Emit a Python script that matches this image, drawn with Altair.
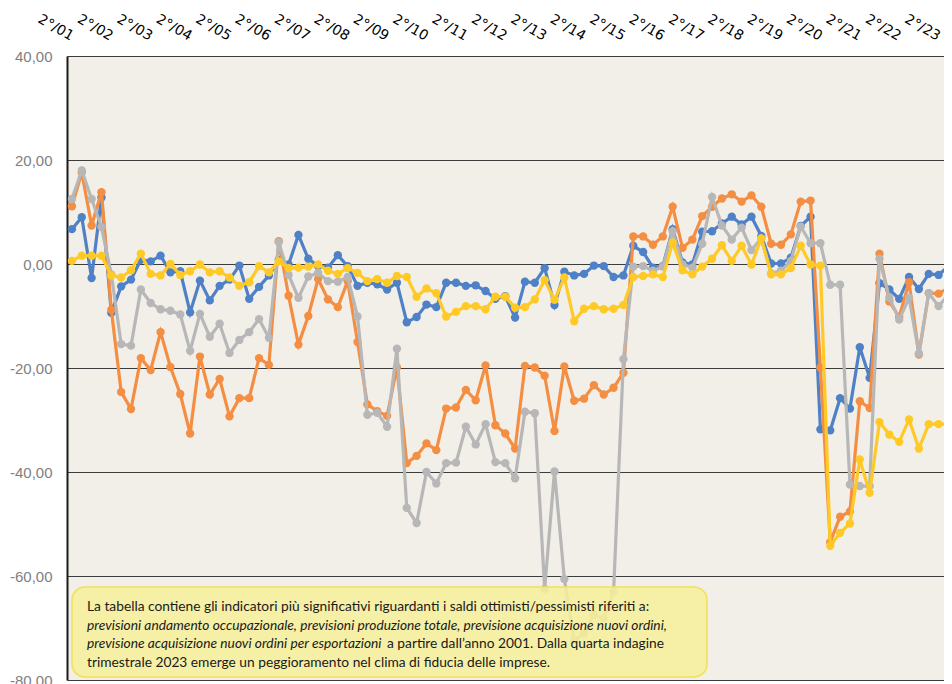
import altair as alt
import pandas as pd

# ---------------- data ----------------
quarter_index = list(range(91))  # 2°/01 ... 4°/23 (quarterly)

tick_labels = ["2°/01", "2°/02", "2°/03", "2°/04", "2°/05", "2°/06", "2°/07", "2°/08",
               "2°/09", "2°/10", "2°/11", "2°/12", "2°/13", "2°/14", "2°/15", "2°/16",
               "2°/17", "2°/18", "2°/19", "2°/20", "2°/21", "2°/22", "2°/23"]

occupazione = [6.7, 9.0, -2.7, 12.8, -9.4, -4.3, -3.0, 0.8, 0.5, 1.6,
               -1.6, -1.4, -9.3, -3.2, -7.0, -4.2, -3.0, -0.3, -6.7, -4.4,
               -2.2, 0.8, -0.1, 5.6, 1.0, -0.4, -0.7, 1.7, -0.4, -4.2,
               -3.6, -3.9, -4.9, -3.6, -11.2, -10.2, -7.8, -8.3, -3.6, -3.6,
               -4.2, -4.1, -5.2, -6.7, -6.2, -10.3, -3.4, -3.6, -0.8, -7.9,
               -1.5, -2.2, -1.9, -0.3, -0.4, -2.5, -2.2, 3.5, 2.3, -0.7,
               -0.4, 6.7, 0.3, -0.1, 6.2, 6.3, 7.8, 9.1, 7.6, 9.1,
               5.4, 0.1, 0.1, 1.2, 7.3, 9.1, -31.8, -32.0, -25.8, -27.8,
               -16.0, -21.9, -3.7, -4.9, -6.7, -2.5, -4.8, -1.9, -2.1, -0.4,
               -1.0]

produzione = [11.1, 17.6, 7.4, 13.8, -8.8, -24.6, -27.9, -18.1, -20.4, -13.1,
              -19.8, -25.0, -32.6, -17.8, -25.1, -22.1, -29.3, -25.8, -25.8, -18.1,
              -19.4, 4.4, -6.1, -15.5, -10.0, -2.9, -6.8, -8.3, -3.3, -15.0,
              -27.0, -28.3, -29.2, -19.9, -38.3, -36.9, -34.5, -35.8, -27.8, -27.6,
              -24.2, -26.2, -19.5, -31.0, -32.6, -35.5, -19.6, -19.9, -21.5, -32.1,
              -19.7, -26.3, -25.9, -23.3, -25.1, -23.8, -20.9, 5.3, 5.3, 3.7,
              5.3, 11.0, 3.1, 4.7, 9.2, 11.0, 12.6, 13.4, 12.0, 13.2,
              11.0, 3.9, 3.7, 5.7, 12.0, 12.2, -19.9, -53.5, -48.6, -47.6,
              -26.4, -27.7, 2.0, -7.2, -10.2, -3.5, -17.4, -5.6, -5.7, -4.6,
              -5.5]

ordini = [12.5, 18.0, 12.5, 7.1, -2.0, -15.4, -15.7, -4.9, -7.5, -8.7,
          -9.0, -9.7, -16.7, -9.6, -14.0, -11.5, -17.1, -14.6, -13.1, -10.6,
          -14.2, 4.2, -2.1, -6.5, -2.4, -1.7, -3.3, -3.4, -2.5, -10.1,
          -29.0, -28.6, -31.3, -16.3, -46.9, -49.8, -40.0, -42.2, -38.3, -38.2,
          -31.3, -34.7, -30.8, -38.1, -38.3, -41.2, -28.4, -28.7, -62.5, -39.9,
          -60.6, -72.3, -71.0, -67.5, -68.2, -63.0, -18.3, -0.5, -0.4, -1.3,
          -0.5, 6.3, -0.1, -0.7, 3.9, 12.9, 7.4, 4.7, 7.0, 2.7,
          4.9, -1.8, -1.3, 0.6, 7.2, 4.0, 4.0, -4.0, -4.0, -42.4,
          -42.7, -42.7, 1.0, -6.5, -10.7, -6.5, -17.2, -5.6, -8.1, -5.9,
          -7.5]

esportazioni = [0.6, 1.6, 1.6, 1.6, -2.2, -2.6, -1.2, 2.0, -1.9, -2.2,
                0.0, -2.1, -1.4, -0.1, -1.6, -1.4, -2.6, -4.2, -3.5, -0.4,
                -1.6, 0.5, -0.8, -0.7, -0.5, -0.1, -1.3, -1.9, -0.8, -1.7,
                -3.3, -2.9, -3.6, -2.3, -2.5, -6.3, -4.7, -5.6, -10.1, -9.2,
                -8.1, -8.1, -8.7, -6.3, -6.3, -8.4, -8.3, -6.8, -3.1, -6.9,
                -2.6, -11.0, -8.6, -8.1, -8.7, -8.6, -7.9, -2.5, -2.3, -2.0,
                -2.5, 4.1, -1.2, -2.0, -0.5, 1.0, 3.6, 0.6, 3.5, -0.1,
                4.9, -2.0, -2.0, -0.8, 3.5, -0.1, -0.3, -54.2, -51.7, -49.9,
                -37.6, -44.0, -30.4, -32.8, -34.2, -29.9, -35.5, -30.8, -30.8, -30.8,
                -33.0]

series = [
    (occupazione, "#4F81C7"),
    (produzione, "#F48E42"),
    (ordini, "#B7B7B7"),
    (esportazioni, "#FFC926"),
]

note_line1 = "La tabella contiene gli indicatori più significativi riguardanti i saldi ottimisti/pessimisti riferiti a:"
note_line2 = "previsioni andamento occupazionale, previsioni produzione totale, previsione acquisizione nuovi ordini,"
note_line3a = "previsione acquisizione nuovi ordini per esportazioni"
note_line3b = "a partire dall\u2019anno 2001. Dalla quarta indagine"
note_line4 = "trimestrale 2023 emerge un peggioramento nel clima di fiducia delle imprese."

# ---------------- encodings ----------------
label_array = "[" + ",".join("'" + t + "'" for t in tick_labels) + "]"

x_enc = alt.X(
    "q:Q",
    scale=alt.Scale(domain=[-0.5, 88.55], nice=False, zero=False),
    axis=alt.Axis(
        orient="top",
        values=[4 * k for k in range(len(tick_labels))],
        labelExpr=label_array + "[round(datum.value / 4)]",
        labelAngle=30,
        labelAlign="right",
        labelBaseline="middle",
        labelPadding=19,
        labelFont="DejaVu Sans",
        labelFontSize=14,
        labelColor="#000000",
        labelOverlap=False,
        ticks=False,
        tickSize=0,
        domain=False,
        grid=False,
        title=None,
    ),
)

y_enc = alt.Y(
    "v:Q",
    scale=alt.Scale(domain=[-80, 40], nice=False, zero=False),
    axis=alt.Axis(
        values=[-80, -60, -40, -20, 0, 20, 40],
        labelExpr="(datum.value < 0 ? '-' : '') + replace(format(abs(datum.value), '.2f'), '.', ',')",
        labelFont="Liberation Sans",
        labelFontSize=15,
        labelColor="#808080",
        labelPadding=15,
        ticks=False,
        tickSize=0,
        domain=True,
        domainColor="#1a1a1a",
        domainWidth=2,
        grid=True,
        gridColor="#3c3c3c",
        gridWidth=1.2,
        title=None,
    ),
)

layers = []
for vals, color in series:
    df = pd.DataFrame({"q": quarter_index, "v": vals})
    base = alt.Chart(df)
    layers.append(base.mark_line(color=color, strokeWidth=3.2, clip=True).encode(x=x_enc, y=y_enc))
    layers.append(base.mark_circle(color=color, size=70, opacity=1, clip=True).encode(x=x_enc, y=y_enc))

one = alt.Data(values=[{"k": 1}])

box = alt.Chart(one).mark_rect(
    fill="#F6EF9C", fillOpacity=0.88, stroke="#F1E25A", strokeWidth=1.6, cornerRadius=13
).encode(x=alt.value(5), x2=alt.value(640), y=alt.value(531), y2=alt.value(621))
layers.append(box)

text_style = dict(font="Lato", fontSize=13.75, color="#1a1a1a", align="left", baseline="middle")


def note(txt, x, y, italic=False):
    style = dict(text_style)
    if italic:
        style["fontStyle"] = "italic"
    return alt.Chart(one).mark_text(text=txt, **style).encode(x=alt.value(x), y=alt.value(y))


layers.append(note(note_line1, 20, 551))
layers.append(note(note_line2, 20, 569.5, italic=True))
layers.append(note(note_line3a, 20, 588, italic=True))
layers.append(note(note_line3b, 320, 588))
layers.append(note(note_line4, 20, 606.5))

chart = alt.layer(*layers).properties(
    width=877,
    height=624,
    autosize=alt.AutoSizeParams(type="none"),
    padding={"left": 59, "top": 48, "right": 0, "bottom": 4},
    background="#FFFFFF",
).configure_view(fill="#F2EFE9", stroke=None)

chart.save("out.html", embed_options={"renderer": "svg", "actions": False})
